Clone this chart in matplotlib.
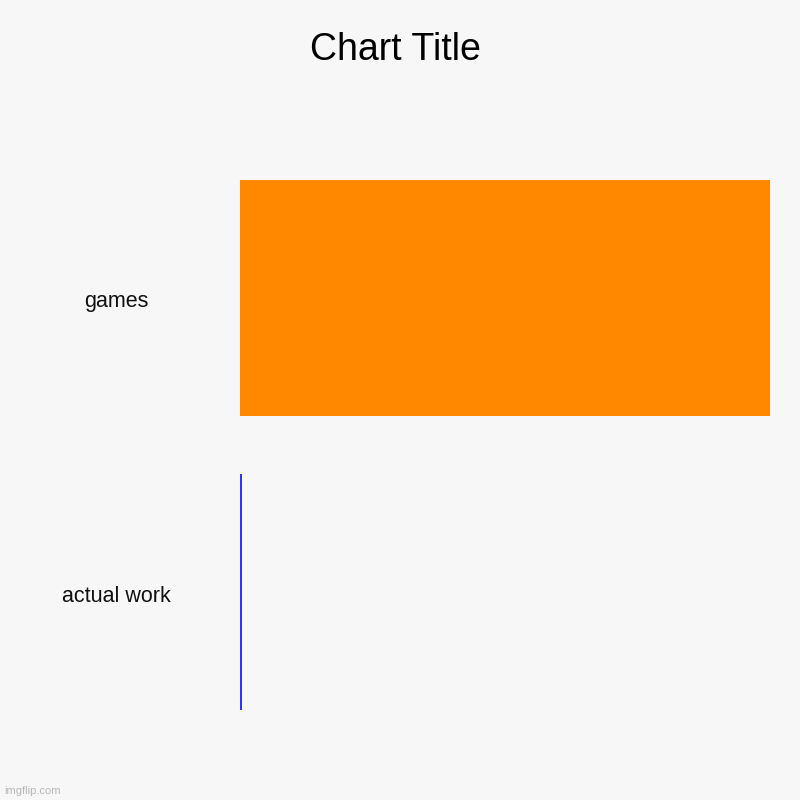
import matplotlib.pyplot as plt

categories = ['games', 'actual work']
values = [100, 0.4]
colors = ['#ff8800', '#3333ff']

plt.rcParams['font.family'] = ['Liberation Sans', 'DejaVu Sans']

fig = plt.figure(figsize=(8, 8), dpi=100, facecolor='#f7f7f7')
ax = fig.add_axes([0.3, 0.1125, 0.6625, 0.6625])
ax.set_facecolor('#f7f7f7')

ax.barh(range(len(categories)), values, height=0.8, color=colors)
ax.set_xlim(0, 100)
ax.set_ylim(1.4, -0.4)

for s in ax.spines.values():
    s.set_visible(False)
ax.set_xticks([])
ax.set_yticks([])

# category labels sit well left of the bars, nudged a bit below bar centre
for i, c in enumerate(categories):
    ax.text(-0.2325, i + 0.005, c, transform=ax.get_yaxis_transform(),
            ha='center', va='center_baseline', fontsize=15.5, color='#111111')

fig.text(0.494, 0.9375, 'Chart Title', ha='center', va='center', fontsize=27, color='#000000')
fig.text(0.005, 0.011, 'imgflip.com', ha='left', va='center', fontsize=8, color='#b8b8b8')

fig.savefig('out.png', dpi=100, facecolor=fig.get_facecolor())
